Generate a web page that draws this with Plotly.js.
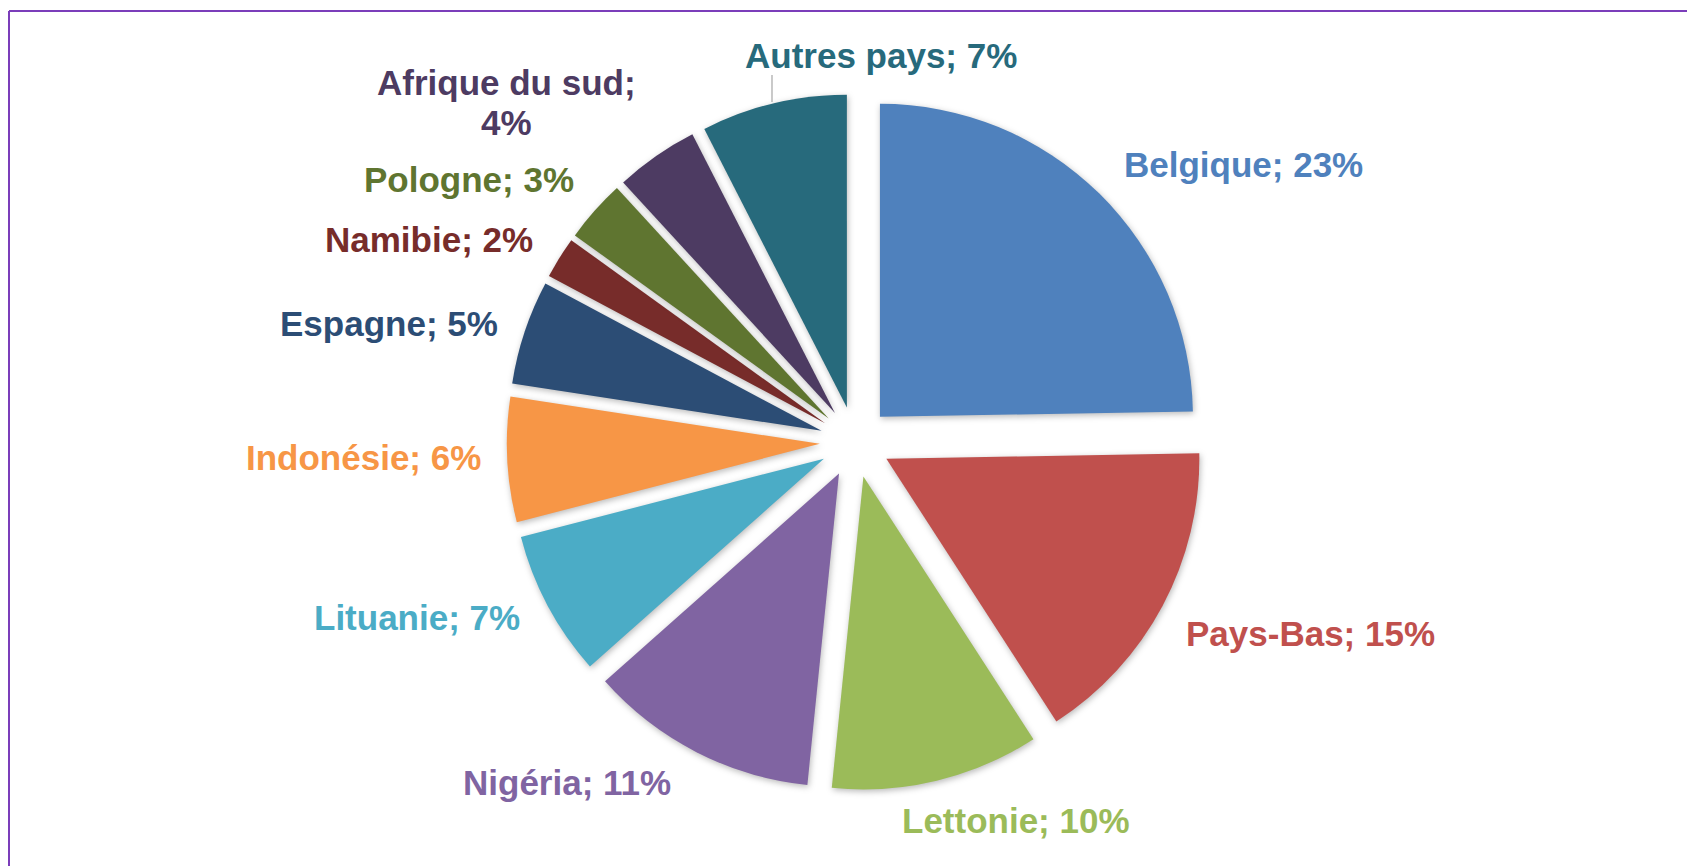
<!DOCTYPE html>
<html>
<head>
<meta charset="utf-8">
<script src="https://cdn.plot.ly/plotly-3.0.1.min.js"></script>
<style>
  html, body { margin: 0; padding: 0; background: #ffffff; }
  #chart { width: 1687px; height: 866px; }
  .pielayer .slice path.surface { filter: drop-shadow(1px 2px 3px rgba(0,0,0,0.28)); }
</style>
</head>
<body>
<div id="chart"></div>
<script>
// ---- Data ----
const countries = ["Belgique", "Pays-Bas", "Lettonie", "Nigéria", "Lituanie", "Indonésie",
                   "Espagne", "Namibie", "Pologne", "Afrique du sud", "Autres pays"];
const shares = [23, 15, 10, 11, 7, 6, 5, 2, 3, 4, 7];
const sliceColors = ["#4F81BD", "#C0504D", "#9BBB59", "#8064A2", "#4BACC6", "#F79646",
                     "#2C4D75", "#772C2A", "#5F7530", "#4D3B62", "#276A7C"];

// ---- Layout only: where each data label sits (pixel centre in the 1687x866 page) ----
const W = 1687, H = 866;
const labelPlace = [
  [1243, 164], [1310, 633], [1016, 820], [567, 782], [417, 617], [363, 457],
  [389, 323], [429, 240], [469, 179], [506, 82], [881, 56]
];
const wrapLabel = { "Afrique du sud": 40 };   // line step for a label broken in two lines

const labelFont = { family: "Liberation Sans, Arial, sans-serif", size: 35, weight: "bold" };

const annotations = [];
countries.forEach((c, i) => {
  const [px, py] = labelPlace[i];
  const lines = wrapLabel[c] ? [c + ";", shares[i] + "%"] : [c + "; " + shares[i] + "%"];
  lines.forEach((t, k) => {
    annotations.push({
      xref: "paper", yref: "paper",
      x: px / W, y: 1 - (py + k * (wrapLabel[c] || 0)) / H,
      xanchor: "center", yanchor: "middle",
      text: t, showarrow: false,
      font: Object.assign({}, labelFont, { color: sliceColors[i] })
    });
  });
});

const trace = {
  type: "pie",
  labels: countries,
  values: shares,
  sort: false,
  direction: "clockwise",
  rotation: 0,
  pull: countries.map(() => 0.113),
  marker: { colors: sliceColors, line: { width: 0 } },
  textinfo: "none",
  hoverinfo: "label+value",
  domain: { x: [0.3004, 0.7134], y: [0.0872, 0.892] },
  showlegend: false
};

const layout = {
  width: W,
  height: H,
  margin: { l: 0, r: 0, t: 0, b: 0 },
  paper_bgcolor: "#ffffff",
  showlegend: false,
  annotations: annotations,
  shapes: [
    // chart frame (top and left edges visible)
    { type: "line", xref: "paper", yref: "paper", x0: 9 / W, x1: 1.01, y0: 1 - 11 / H, y1: 1 - 11 / H,
      line: { color: "#7B3DBA", width: 2 } },
    { type: "line", xref: "paper", yref: "paper", x0: 9 / W, x1: 9 / W, y0: 1 - 11 / H, y1: -0.02,
      line: { color: "#7B3DBA", width: 2 } },
    // leader line of the "Autres pays" label
    { type: "line", xref: "paper", yref: "paper", x0: 772 / W, x1: 772 / W, y0: 1 - 75 / H, y1: 1 - 102 / H,
      line: { color: "#A6A6A6", width: 1.2 } }
  ]
};

Plotly.newPlot("chart", [trace], layout, { staticPlot: true, displayModeBar: false });
</script>
</body>
</html>
